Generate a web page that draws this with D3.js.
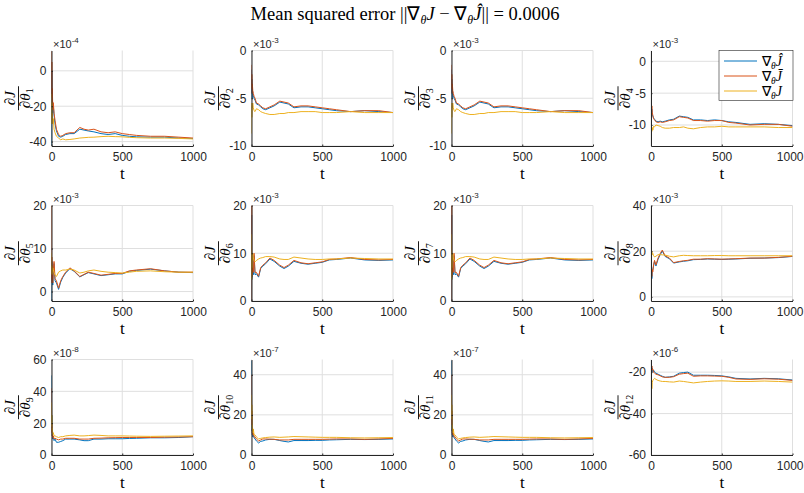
<!DOCTYPE html>
<html>
<head>
<meta charset="utf-8">
<script src="https://cdn.jsdelivr.net/npm/d3@7"></script>
<style>
  body { margin: 0; background: #fff; }
  svg { display: block; }
</style>
</head>
<body>
<svg id="chart" width="804" height="493"></svg>
<script>
// Sample times of the running gradient estimates
const tSteps = [0, 1, 2, 4, 6, 9, 13, 18, 25, 35, 50, 65, 80, 100, 130, 160, 200, 230, 260, 300, 350, 400, 450, 500, 550, 600, 700, 800, 900, 1000];

// Power of ten shown above each panel, and y ranges / ticks (in those units)
const exponents = [-4, -3, -3, -3, -3, -3, -3, -3, -8, -7, -7, -6];
const yDomains = [[-42.5, 11.5], [-10, 0], [-10, 0], [-13.3, 1.7], [-2.2, 20], [0, 20], [0, 20], [-1.8, 40], [0, 60], [0, 47.6], [0, 47.6], [-60, -13.9]];
const yTickValues = [[-40, -20, 0], [-10, -5, 0], [-10, -5, 0], [-10, -5, 0], [0, 10, 20], [0, 10, 20], [0, 10, 20], [0, 20, 40], [0, 20, 40, 60], [0, 20, 40], [0, 20, 40], [-60, -40, -20]];
const xTickValues = [0, 500, 1000];

// ∇θĴ estimate, one row per parameter θ1..θ12
const gradHat = [
  [-42, -20, 0, -25, -12, -24, -20, -25, -30, -34, -37, -37.5, -37, -36, -35.5, -35.5, -33, -33.5, -34, -34.5, -35.5, -36, -35.5, -36.5, -37, -37.3, -37.5, -37.5, -38, -38.3],
  [-2, -4.5, -3, -5, -4, -4.5, -4.7, -5, -5.2, -5.6, -5.7, -5.9, -6.1, -6.2, -6, -5.8, -5.4, -5.5, -5.6, -6, -5.9, -5.9, -6, -6.1, -6.2, -6.3, -6.4, -6.3, -6.4, -6.5],
  [-2, -4.5, -3, -5, -4, -4.5, -4.7, -5, -5.2, -5.6, -5.7, -5.9, -6.1, -6.2, -6, -5.8, -5.4, -5.5, -5.6, -6, -5.9, -5.9, -6, -6.1, -6.2, -6.3, -6.4, -6.3, -6.4, -6.5],
  [-6.5, -9, -7, -8, -7.5, -8.3, -8.6, -8.9, -9.1, -9.4, -9.5, -9.4, -9.5, -9.4, -9.2, -9.1, -8.6, -8.7, -8.8, -9.2, -9.2, -9.3, -9.2, -9.3, -9.5, -9.6, -9.9, -9.8, -9.9, -10.1],
  [-2.2, 1.5, 7, 2.5, 5.5, 1.5, 4.5, 6.5, 2.5, 2, 0.5, 2.2, 3.3, 4.3, 5.3, 4.7, 3.4, 3.9, 4.4, 4.1, 3.7, 3.9, 4.1, 4.1, 4.7, 4.9, 5.2, 4.8, 4.5, 4.4],
  [0, 18, 4.5, 7.5, 5, 6.5, 5.5, 9.5, 5.5, 5.7, 5, 6.8, 7.3, 7.8, 8.8, 8.3, 7.3, 6.8, 7.3, 8.3, 7.9, 7.7, 7.9, 8.1, 8.6, 8.7, 9, 8.6, 8.5, 8.6],
  [0, 18, 4.5, 7.5, 5, 6.5, 5.5, 9.5, 5.5, 5.7, 5, 6.8, 7.3, 7.8, 8.8, 8.3, 7.3, 6.8, 7.3, 8.3, 7.9, 7.7, 7.9, 8.1, 8.6, 8.7, 9, 8.6, 8.5, 8.6],
  [0, 32, 5, 12, 8, 11, 12, 13.5, 15.5, 13.5, 16.5, 18.5, 20, 17.7, 16.7, 14.8, 15.3, 15.6, 15.8, 16.3, 16.4, 16.6, 16.5, 16.4, 16.5, 16.6, 16.9, 17, 17.2, 17.7],
  [50, 15, 25, 12, 14, 10, 11, 9, 10, 8, 8, 8.5, 9, 10, 10, 10, 9.5, 9, 9, 10, 10, 10.2, 10.2, 10.2, 10.4, 10.5, 10.8, 10.8, 11, 11.5],
  [47, 12, 20, 10, 12, 9, 10, 8.5, 8, 7, 6, 6.8, 7, 7.5, 7.8, 7.8, 7.2, 6.8, 6.5, 7.2, 7.2, 7.2, 7.3, 7.3, 7.5, 7.6, 7.8, 7.7, 7.8, 8],
  [47, 12, 20, 10, 12, 9, 10, 8.5, 8, 7, 6, 6.8, 7, 7.5, 7.8, 7.8, 7.2, 6.8, 6.5, 7.2, 7.2, 7.2, 7.3, 7.3, 7.5, 7.6, 7.8, 7.7, 7.8, 8],
  [-55, -16, -25, -17, -19, -18, -20, -19, -20, -20.5, -21, -21.5, -22, -22.5, -22.3, -22, -20.5, -20.2, -20, -21.5, -21.5, -21.5, -21.6, -21.8, -22.3, -23, -23.3, -23, -23.2, -23.8]
];

// ∇θJ̄ estimate
const gradBar = [
  [11, -15, 5, -20, -10, -22, -18, -24, -28, -33, -36, -37, -36.5, -35.5, -35, -35, -32, -33, -33.5, -33, -34.5, -35, -34.5, -35.5, -36, -36.5, -37, -37, -37.5, -38],
  [-1.5, -4, -2.5, -4.5, -3.5, -4.2, -4.5, -4.8, -5, -5.5, -5.6, -5.8, -6, -6.1, -5.9, -5.7, -5.3, -5.4, -5.5, -5.9, -5.8, -5.8, -5.9, -6, -6.1, -6.2, -6.4, -6.3, -6.3, -6.5],
  [-1.5, -4, -2.5, -4.5, -3.5, -4.2, -4.5, -4.8, -5, -5.5, -5.6, -5.8, -6, -6.1, -5.9, -5.7, -5.3, -5.4, -5.5, -5.9, -5.8, -5.8, -5.9, -6, -6.1, -6.2, -6.4, -6.3, -6.3, -6.5],
  [-5, -8, -6, -7.5, -7, -8, -8.5, -9, -9.2, -9.5, -9.6, -9.5, -9.6, -9.5, -9.3, -9.2, -8.7, -8.8, -8.9, -9.3, -9.3, -9.4, -9.3, -9.3, -9.6, -9.7, -10, -9.9, -9.9, -10.2],
  [20, 2, 8, 3, 6, 2, 5, 7, 3, 2.5, 0.8, 2.5, 3.5, 4.5, 5.5, 4.8, 3.5, 4, 4.5, 4.2, 3.8, 4, 4.2, 4.2, 4.8, 5, 5.3, 4.8, 4.5, 4.5],
  [0, 20, 5, 8, 5.5, 7, 6, 10, 6, 6, 5.2, 7, 7.5, 8, 9, 8.5, 7.5, 7, 7.5, 8.5, 8, 7.8, 8, 8.2, 8.7, 8.8, 9.1, 8.7, 8.6, 8.7],
  [0, 20, 5, 8, 5.5, 7, 6, 10, 6, 6, 5.2, 7, 7.5, 8, 9, 8.5, 7.5, 7, 7.5, 8.5, 8, 7.8, 8, 8.2, 8.7, 8.8, 9.1, 8.7, 8.6, 8.7],
  [0, 8, 3, 10, 9, 12, 11, 14, 16, 14, 17, 19, 20.5, 18, 17, 15, 15.5, 15.8, 16, 16.5, 16.5, 16.7, 16.6, 16.5, 16.6, 16.7, 17, 17, 17.3, 17.8],
  [42, 14, 20, 12, 13, 11, 12, 10, 10.5, 10, 9.5, 10, 10, 10.5, 10.5, 10.5, 10, 10, 10, 10.5, 10.6, 10.8, 10.9, 11, 11, 11, 11, 11.2, 11.3, 11.5],
  [40, 15, 22, 11, 13, 10, 11, 9, 9, 8, 7, 7.5, 8, 8, 7.9, 7.8, 7.5, 7.5, 7.5, 7.8, 7.8, 7.8, 7.8, 7.8, 7.9, 8, 8, 7.8, 8, 8.3],
  [40, 15, 22, 11, 13, 10, 11, 9, 9, 8, 7, 7.5, 8, 8, 7.9, 7.8, 7.5, 7.5, 7.5, 7.8, 7.8, 7.8, 7.8, 7.8, 7.9, 8, 8, 7.8, 8, 8.3],
  [-15, -43, -18, -20, -17, -19, -18.5, -20, -20.5, -21, -21.3, -21.8, -22.3, -22.5, -22.5, -22.2, -21, -20.7, -20.5, -22, -21.8, -21.8, -21.9, -22, -22.5, -23.3, -23.5, -23.2, -23.4, -24]
];

// ∇θJ reference gradient
const gradTrue = [
  [-13, -30, -18, -28, -24, -30, -27, -33, -35, -37, -38, -39, -38.5, -39, -38.8, -38.5, -38, -37.8, -37.6, -37.5, -37.2, -37, -37.2, -37.3, -37.6, -37.8, -38, -38, -38.2, -38.5],
  [-8.7, -5.5, -7, -5.8, -6, -5.5, -6, -6.3, -6.4, -6.1, -6.2, -6.4, -6.5, -6.6, -6.7, -6.7, -6.6, -6.6, -6.5, -6.5, -6.4, -6.4, -6.4, -6.5, -6.5, -6.5, -6.4, -6.5, -6.5, -6.5],
  [-8.7, -5.5, -7, -5.8, -6, -5.5, -6, -6.3, -6.4, -6.1, -6.2, -6.4, -6.5, -6.6, -6.7, -6.7, -6.6, -6.6, -6.5, -6.5, -6.4, -6.4, -6.4, -6.5, -6.5, -6.5, -6.4, -6.5, -6.5, -6.5],
  [-13.3, -10, -12, -10.5, -11, -10.4, -10.8, -10.2, -10.3, -10, -10.1, -10.2, -10.4, -10.5, -10.5, -10.4, -10.4, -10.3, -10.5, -10.6, -10.4, -10.3, -10.3, -10.2, -10.3, -10.3, -10.3, -10.3, -10.4, -10.4],
  [9, 4, 6, 5, 4, 5.5, 5, 4.5, 3.8, 3.5, 4.5, 4.8, 5, 5, 5.2, 5, 4.3, 4.5, 4.8, 5, 4.7, 4.5, 4.4, 4.3, 4.5, 4.7, 4.8, 4.6, 4.5, 4.5],
  [14, 4.5, 10, 7, 8, 10, 9, 8.5, 8.2, 8.5, 8.8, 9, 9.1, 9.3, 9.3, 9.2, 8.8, 8.7, 8.7, 9.2, 9, 8.8, 8.7, 8.7, 8.8, 8.8, 9, 8.9, 8.8, 8.8],
  [14, 4.5, 10, 7, 8, 10, 9, 8.5, 8.2, 8.5, 8.8, 9, 9.1, 9.3, 9.3, 9.2, 8.8, 8.7, 8.7, 9.2, 9, 8.8, 8.7, 8.7, 8.8, 8.8, 9, 8.9, 8.8, 8.8],
  [26, 18, 22, 19, 20, 18.5, 19, 18, 17.5, 17.8, 18.5, 18.5, 18.4, 18.3, 17.8, 17.5, 18, 18.2, 18.1, 18, 18, 18, 18.1, 18.1, 18, 18, 18, 18, 18, 18],
  [33, 18, 25, 15, 17, 13, 14, 12, 12, 11.5, 11, 11.5, 11.5, 12, 12.3, 12.5, 12, 12, 12.2, 12.5, 12.3, 12, 12, 12, 11.9, 11.8, 11.7, 11.8, 11.9, 12],
  [30, 18, 25, 13, 15, 11, 13, 10, 10, 9, 8, 8.3, 8.5, 8.7, 8.9, 9, 8.8, 8.9, 9, 9.2, 9.1, 9, 8.9, 8.8, 8.8, 8.8, 8.6, 8.5, 8.6, 8.7],
  [30, 18, 25, 13, 15, 11, 13, 10, 10, 9, 8, 8.3, 8.5, 8.7, 8.9, 9, 8.8, 8.9, 9, 9.2, 9.1, 9, 8.9, 8.8, 8.8, 8.8, 8.6, 8.5, 8.6, 8.7],
  [-20, -38, -30, -26, -28, -25, -24, -23.5, -23, -23.5, -24, -24.3, -24.5, -24.5, -24.7, -24.8, -24.3, -24.5, -24.8, -25.2, -24.8, -24.5, -24.3, -24.2, -24.3, -24.5, -24.5, -24.3, -24.5, -24.8]
];

const seriesList = [
  { values: gradHat, color: "#0072BD", accent: "\u0302" },
  { values: gradBar, color: "#D95319", accent: "\u0304" },
  { values: gradTrue, color: "#EDB120", accent: "" }
];

// Panel geometry
const colX = [51.5, 251.5, 451.5, 651];
const rowY = [50.5, 205.5, 359.5];
const pw = 141.5, ph = 95.5;
const axisColor = "#262626";
const gridColor = "#dfdfdf";
const sans = "'Liberation Sans', Arial, Helvetica, sans-serif";
const serif = "'Liberation Serif', 'Times New Roman', serif";

const svg = d3.select("#chart");
svg.append("rect").attr("width", 804).attr("height", 493).attr("fill", "#fff");

// Title
const title = svg.append("text")
  .attr("x", 405).attr("y", 20)
  .attr("text-anchor", "middle")
  .attr("font-family", serif).attr("font-size", 18.5).attr("fill", "#000");
title.append("tspan").text("Mean squared error ||\u2207");
title.append("tspan").attr("font-size", 12).attr("font-style", "italic").attr("dy", 4).text("\u03B8");
title.append("tspan").attr("font-style", "italic").attr("dy", -4).text("J");
title.append("tspan").text(" \u2212 \u2207");
title.append("tspan").attr("font-size", 12).attr("font-style", "italic").attr("dy", 4).text("\u03B8");
title.append("tspan").attr("font-style", "italic").attr("dy", -4).text("J\u0302");
title.append("tspan").text("|| = 0.0006");

const x = d3.scaleLinear().domain([0, 1000]).range([0, pw]);

const defs = svg.append("defs");

for (let i = 0; i < 12; i++) {
  const col = i % 4, row = Math.floor(i / 4);
  const g = svg.append("g").attr("transform", `translate(${colX[col]},${rowY[row]})`);
  const y = d3.scaleLinear().domain(yDomains[i]).range([ph, 0]);

  defs.append("clipPath").attr("id", "clip" + i)
    .append("rect").attr("x", 0).attr("y", 0).attr("width", pw).attr("height", ph);

  // grid
  g.append("g").selectAll("line").data(xTickValues).join("line")
    .attr("x1", d => x(d)).attr("x2", d => x(d)).attr("y1", 0).attr("y2", ph)
    .attr("stroke", gridColor).attr("stroke-width", 1);
  g.append("g").selectAll("line").data(yTickValues[i]).join("line")
    .attr("x1", 0).attr("x2", pw).attr("y1", d => y(d)).attr("y2", d => y(d))
    .attr("stroke", gridColor).attr("stroke-width", 1);

  // series
  const line = d3.line().x((d, k) => x(tSteps[k])).y(d => y(d));
  const lines = g.append("g").attr("clip-path", `url(#clip${i})`);
  seriesList.forEach(s => {
    lines.append("path").datum(s.values[i])
      .attr("d", line).attr("fill", "none")
      .attr("stroke", s.color).attr("stroke-width", 1).attr("stroke-linejoin", "round");
  });

  // axes
  const xAxis = d3.axisBottom(x).tickValues(xTickValues).tickFormat(d => String(d))
    .tickSizeInner(-1.5).tickSizeOuter(0).tickPadding(6);
  const yAxis = d3.axisLeft(y).tickValues(yTickValues[i]).tickFormat(d => String(d))
    .tickSizeInner(-1.5).tickSizeOuter(0).tickPadding(5);
  const xa = g.append("g").attr("transform", `translate(0,${ph})`).call(xAxis);
  const ya = g.append("g").call(yAxis);
  [xa, ya].forEach(a => {
    a.select(".domain").attr("stroke", axisColor).attr("stroke-width", 1);
    a.selectAll(".tick line").attr("stroke", axisColor);
    a.selectAll(".tick text").attr("fill", axisColor).attr("font-family", sans).attr("font-size", 12);
  });
  // keep the last column's right-hand tick label inside the page
  if (col === 3) {
    xa.selectAll(".tick text").filter(d => d === 1000)
      .attr("text-anchor", "end").attr("x", 10.5);
  }

  // exponent label
  const ex = g.append("text").attr("x", 1.5).attr("y", -3)
    .attr("font-family", sans).attr("font-size", 11).attr("fill", axisColor);
  ex.append("tspan").text("\u00D710");
  ex.append("tspan").attr("font-size", 8).attr("dy", -5).text(String(exponents[i]));

  // x label
  g.append("text").attr("x", pw / 2).attr("y", ph + 33)
    .attr("text-anchor", "middle").attr("font-family", serif).attr("font-size", 17)
    .attr("fill", "#000").text("t");

  // y label: ∂J / ∂θ_i as a stacked fraction
  const yl = g.append("g").attr("transform", `translate(-33,${ph / 2}) rotate(-90)`)
    .attr("font-family", serif).attr("fill", "#000");
  yl.append("text").attr("x", 0).attr("y", -3.5).attr("text-anchor", "middle")
    .attr("font-size", 15).attr("font-style", "italic").text("\u2202J");
  const den = yl.append("text").attr("x", 0).attr("y", 11.5).attr("text-anchor", "middle")
    .attr("font-size", 15).attr("font-style", "italic");
  den.append("tspan").text("\u2202\u03B8");
  den.append("tspan").attr("font-size", 10).attr("font-style", "normal").attr("dy", 3).text(String(i + 1));
  yl.append("line").attr("x1", -12).attr("x2", 12).attr("y1", 0).attr("y2", 0)
    .attr("stroke", "#000").attr("stroke-width", 0.9);
}

// Legend in the fourth panel
const lg = svg.append("g").attr("transform", "translate(719,50.5)");
lg.append("rect").attr("width", 74).attr("height", 50)
  .attr("fill", "#fff").attr("stroke", axisColor).attr("stroke-width", 0.6);
seriesList.forEach((s, k) => {
  const cy = 10.5 + k * 15;
  lg.append("line").attr("x1", 5).attr("x2", 38).attr("y1", cy).attr("y2", cy)
    .attr("stroke", s.color).attr("stroke-width", 1);
  const t = lg.append("text").attr("x", 43).attr("y", cy + 4.5)
    .attr("font-family", serif).attr("font-size", 14).attr("fill", "#000");
  t.append("tspan").text("\u2207");
  t.append("tspan").attr("font-size", 9.5).attr("font-style", "italic").attr("dy", 3).text("\u03B8");
  t.append("tspan").attr("font-style", "italic").attr("dy", -3).text("J" + s.accent);
});
</script>
</body>
</html>
